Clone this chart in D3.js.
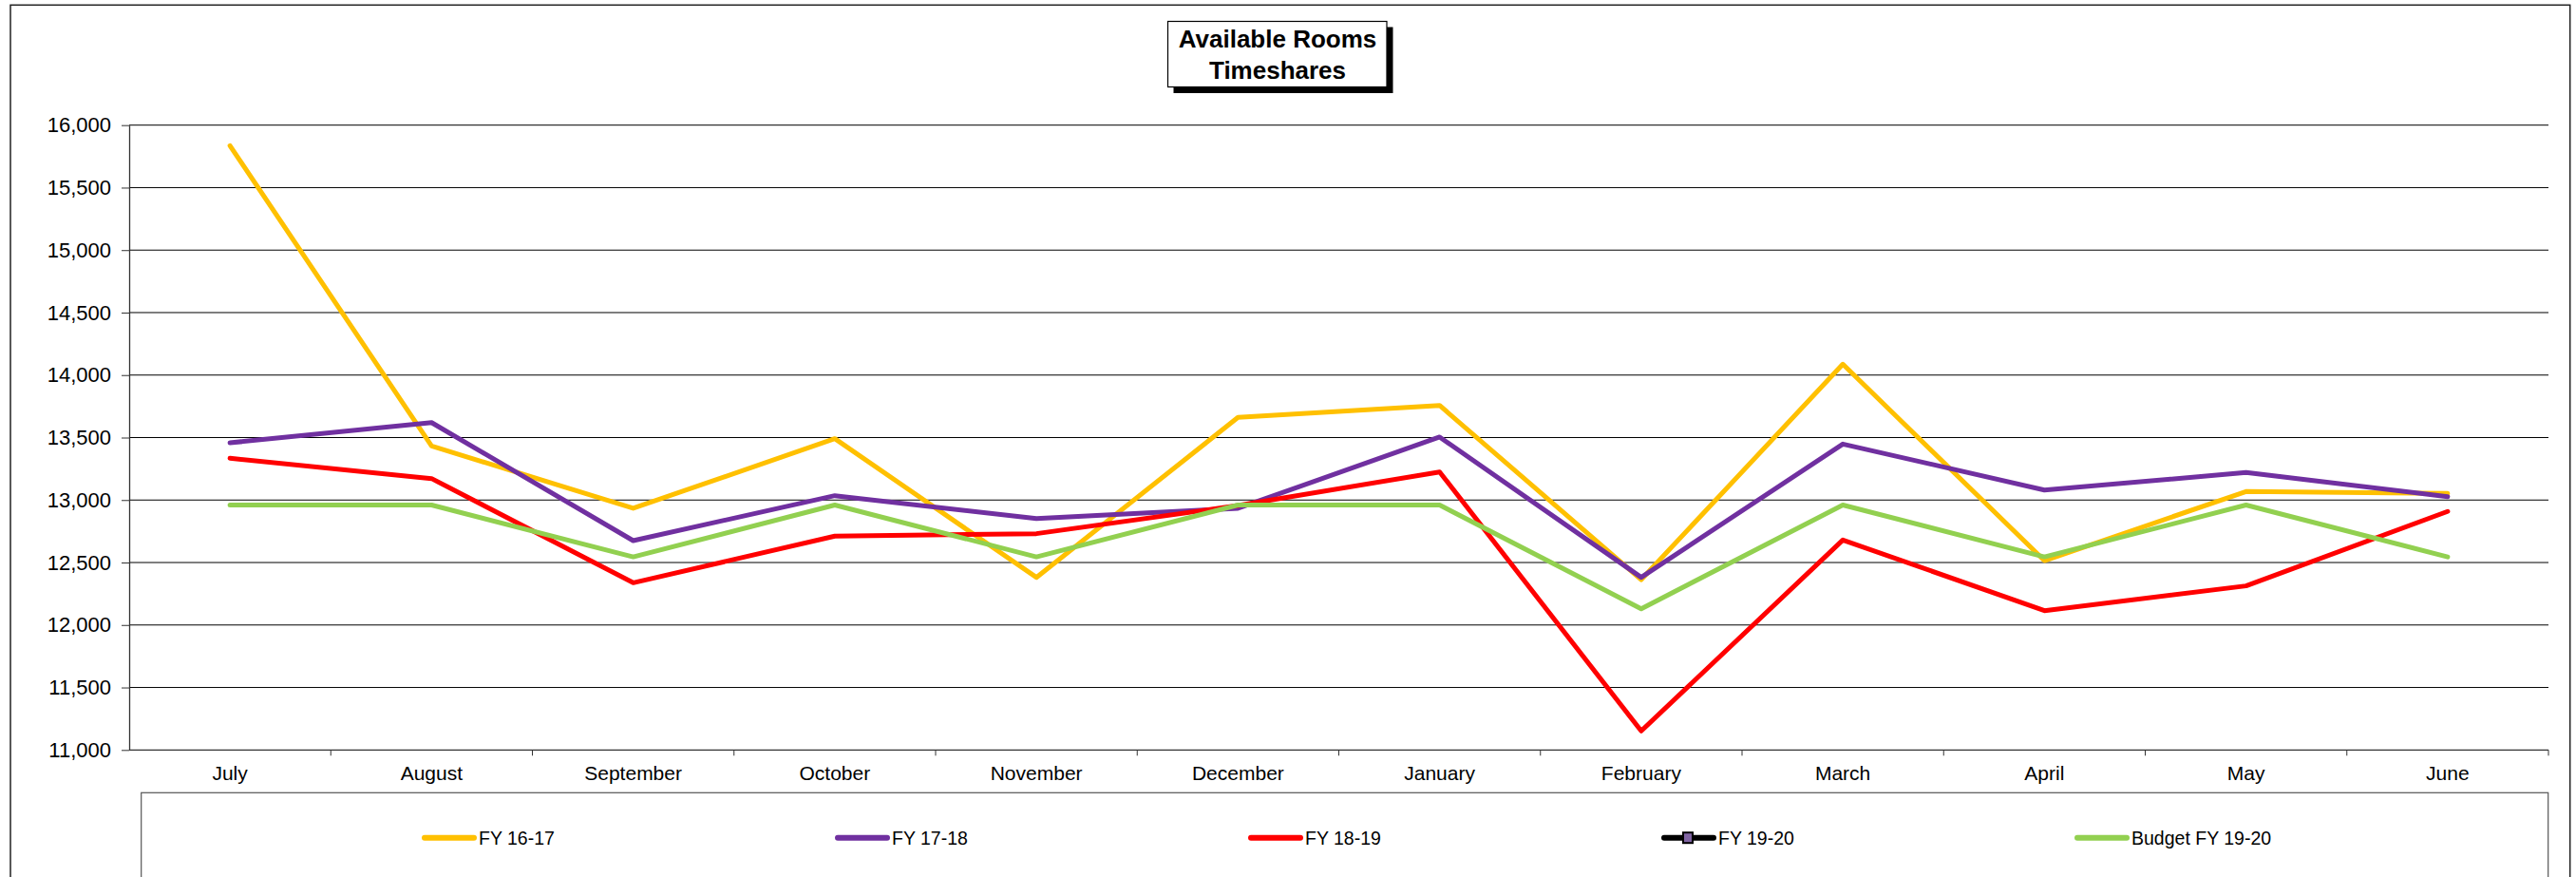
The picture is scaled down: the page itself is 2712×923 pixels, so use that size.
<!DOCTYPE html>
<html>
<head>
<meta charset="utf-8">
<script src="https://cdn.jsdelivr.net/npm/d3@7"></script>
<style>
  html, body { margin: 0; padding: 0; background: #fff; }
  svg { display: block; font-family: "Liberation Sans", Arial, sans-serif; }
</style>
</head>
<body>
<svg id="chart" width="2712" height="923"></svg>
<script>
// Monthly available timeshare room counts by fiscal year
const months = ["July", "August", "September", "October", "November", "December",
                "January", "February", "March", "April", "May", "June"];

const fy1617 = [15836, 13433, 12934, 13491, 12381, 13661, 13757, 12363, 14087, 12515, 13068, 13053];
const fy1718 = [13458, 13620, 12675, 13035, 12852, 12934, 13504, 12381, 13448, 13080, 13220, 13027];
const fy1819 = [13334, 13172, 12338, 12711, 12731, 12956, 13225, 11152, 12680, 12115, 12313, 12909];
const fy1920 = [null, null, null, null, null, null, null, null, null, null, null, null];
const budget1920 = [12960, 12960, 12545, 12960, 12545, 12960, 12960, 12130, 12960, 12545, 12960, 12545];

const seriesNames = ["FY 16-17", "FY 17-18", "FY 18-19", "FY 19-20", "Budget FY 19-20"];
const yTicks = [11000, 11500, 12000, 12500, 13000, 13500, 14000, 14500, 15000, 15500, 16000];

const series = [
  { name: seriesNames[0], values: fy1617, color: "#FFC000" },
  { name: seriesNames[1], values: fy1718, color: "#7030A0" },
  { name: seriesNames[2], values: fy1819, color: "#FF0000" },
  { name: seriesNames[3], values: fy1920, color: "#000000", marker: "#8064A2" },
  { name: seriesNames[4], values: budget1920, color: "#92D050" }
];

const svg = d3.select("#chart");
const plot = { left: 136, right: 2683, top: 131.7, bottom: 789.3 };

// Outer chart frame
svg.append("rect")
  .attr("x", 11).attr("y", 5.3)
  .attr("width", 2694.7).attr("height", 940)
  .attr("fill", "#fff").attr("stroke", "#222").attr("stroke-width", 1.5);

const x = d3.scaleBand().domain(months).range([plot.left, plot.right]).padding(0);
const y = d3.scaleLinear().domain([11000, 16000]).range([plot.bottom, plot.top]);

// Horizontal gridlines
svg.append("g")
  .selectAll("line")
  .data(yTicks.slice(1))
  .join("line")
  .attr("x1", plot.left).attr("x2", plot.right)
  .attr("y1", d => y(d)).attr("y2", d => y(d))
  .attr("stroke", "#000").attr("stroke-width", 1);

// Value axis
const yAxis = svg.append("g")
  .attr("transform", `translate(${plot.left},0)`)
  .call(d3.axisLeft(y).tickValues(yTicks).tickFormat(d3.format(",")).tickSizeInner(8).tickSizeOuter(0).tickPadding(11));
yAxis.select(".domain").attr("stroke", "#333").attr("stroke-width", 1.3);
yAxis.selectAll(".tick line").attr("stroke", "#333");
yAxis.selectAll(".tick text")
  .attr("font-size", 22).attr("fill", "#000")
  .attr("font-family", "'Liberation Sans', Arial, sans-serif");

// Category axis: baseline, boundary ticks, month labels
svg.append("line")
  .attr("x1", plot.left).attr("x2", plot.right)
  .attr("y1", plot.bottom).attr("y2", plot.bottom)
  .attr("stroke", "#333").attr("stroke-width", 1.3);

const bounds = months.map(m => x(m)).concat([x(months[months.length - 1]) + x.bandwidth()]);
svg.append("g")
  .selectAll("line")
  .data(bounds.slice(1))
  .join("line")
  .attr("x1", d => d).attr("x2", d => d)
  .attr("y1", plot.bottom).attr("y2", plot.bottom + 6)
  .attr("stroke", "#333").attr("stroke-width", 1);

svg.append("g")
  .selectAll("text")
  .data(months)
  .join("text")
  .attr("x", d => x(d) + x.bandwidth() / 2)
  .attr("y", 821)
  .attr("text-anchor", "middle")
  .attr("font-size", 21)
  .attr("fill", "#000")
  .text(d => d);

// Series lines
const line = d3.line()
  .defined(d => d != null)
  .x((d, i) => x(months[i]) + x.bandwidth() / 2)
  .y(d => y(d));

svg.append("g")
  .selectAll("path")
  .data(series)
  .join("path")
  .attr("d", s => line(s.values))
  .attr("fill", "none")
  .attr("stroke", s => s.color)
  .attr("stroke-width", 5)
  .attr("stroke-linejoin", "round")
  .attr("stroke-linecap", "round");

// Title box with drop shadow
const title = svg.append("g");
title.append("rect")
  .attr("x", 1235.5).attr("y", 28.5).attr("width", 231).attr("height", 69.5)
  .attr("fill", "#000");
title.append("rect")
  .attr("x", 1229.5).attr("y", 22.5).attr("width", 230.5).attr("height", 69)
  .attr("fill", "#fff").attr("stroke", "#000").attr("stroke-width", 1.2);
title.append("text")
  .attr("x", 1345).attr("y", 50)
  .attr("text-anchor", "middle").attr("font-size", 26).attr("font-weight", "bold")
  .text("Available Rooms");
title.append("text")
  .attr("x", 1345).attr("y", 82.5)
  .attr("text-anchor", "middle").attr("font-size", 26).attr("font-weight", "bold")
  .text("Timeshares");

// Legend
svg.append("rect")
  .attr("x", 148.7).attr("y", 834.3)
  .attr("width", 2534).attr("height", 120)
  .attr("fill", "#fff").attr("stroke", "#555").attr("stroke-width", 1.2);

const legendY = 881.7;
const legend = svg.append("g")
  .selectAll("g")
  .data(series)
  .join("g")
  .attr("transform", (d, i) => `translate(${445 + i * 435},${legendY})`);

legend.append("line")
  .attr("x1", 2).attr("x2", 54)
  .attr("stroke", d => d.color).attr("stroke-width", 6)
  .attr("stroke-linecap", "round");

legend.filter(d => d.marker)
  .append("rect")
  .attr("x", 27 - 5).attr("y", -5.5).attr("width", 10).attr("height", 11)
  .attr("fill", d => d.marker).attr("stroke", "#000").attr("stroke-width", 2);

legend.append("text")
  .attr("x", 59).attr("dy", "0.36em")
  .attr("font-size", 19.5).attr("fill", "#000")
  .text(d => d.name);
</script>
</body>
</html>
